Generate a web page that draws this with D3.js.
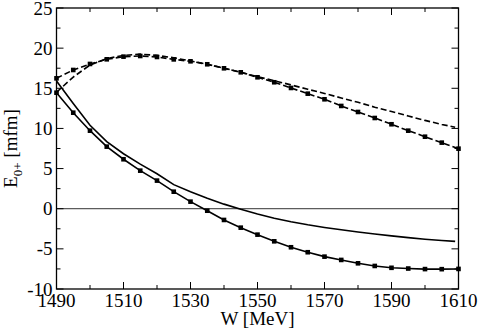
<!DOCTYPE html>
<html><head><meta charset="utf-8">
<script src="https://cdn.jsdelivr.net/npm/d3@7"></script>
<style>body{margin:0;background:#fff}svg{display:block}</style>
</head><body>
<script>
const wMarked = [1490,1495,1500,1505,1510,1515,1520,1525,1530,1535,1540,1545,1550,1555,1560,1565,1570,1575,1580,1585,1590,1595,1600,1605,1610];
const solidMarked = [14.45,11.96,9.72,7.73,6.16,4.74,3.5,2.12,0.88,-0.25,-1.4,-2.36,-3.23,-4.06,-4.8,-5.42,-5.97,-6.38,-6.8,-7.13,-7.36,-7.45,-7.52,-7.53,-7.5];
const dashedMarked = [16.24,17.28,18.03,18.61,18.94,19.02,18.9,18.6,18.36,17.99,17.49,16.99,16.37,15.75,15.04,14.33,13.63,12.8,12.05,11.3,10.52,9.72,8.97,8.23,7.48];
const wPlain = [1490,1495,1500,1505,1510,1515,1520,1525,1530,1535,1540,1545,1550,1555,1560,1565,1570,1575,1580,1585,1590,1595,1600,1605,1609];
const solidPlain = [15.9,13.1,10.4,8.35,6.85,5.55,4.35,3.0,2.1,1.3,0.57,-0.08,-0.66,-1.18,-1.62,-2.0,-2.33,-2.63,-2.9,-3.15,-3.38,-3.6,-3.8,-3.96,-4.07];
const dashedPlain = [14.5,16.4,17.9,18.7,19.1,19.25,19.1,18.8,18.4,18.0,17.5,17.0,16.45,15.95,15.42,14.88,14.35,13.8,13.25,12.65,12.1,11.55,11.0,10.5,10.15];
const xTicks = [1490,1510,1530,1550,1570,1590,1610];
const yTicks = [-10,-5,0,5,10,15,20,25];

const FONT = "'Liberation Serif','Times New Roman',Times,serif";
const W = 479, H = 329;
const m = {l:56.5, r:20.5, t:8, b:40};
const svg = d3.select("body").append("svg").attr("width",W).attr("height",H)
  .attr("font-family",FONT).style("font-family",FONT);
const x = d3.scaleLinear().domain([1490,1610]).range([m.l, W-m.r]);
const y = d3.scaleLinear().domain([-10,25]).range([H-m.b, m.t]);
const x0=x.range()[0], x1=x.range()[1], y0=y.range()[0], y1=y.range()[1];

// zero line
svg.append("line").attr("x1",x0).attr("x2",x1).attr("y1",y(0)).attr("y2",y(0))
  .attr("stroke","#333").attr("stroke-width",1);

// ticks
const xMinor = d3.range(1500,1610,20), yMinor = d3.range(-7.5,25,5);
const tk = svg.append("g").attr("stroke","#000").attr("stroke-width",1);
function xt(vals,len){vals.forEach(v=>{
  tk.append("line").attr("x1",x(v)).attr("x2",x(v)).attr("y1",y0).attr("y2",y0-len);
  tk.append("line").attr("x1",x(v)).attr("x2",x(v)).attr("y1",y1).attr("y2",y1+len);});}
function yt(vals,len){vals.forEach(v=>{
  tk.append("line").attr("y1",y(v)).attr("y2",y(v)).attr("x1",x0).attr("x2",x0+len);
  tk.append("line").attr("y1",y(v)).attr("y2",y(v)).attr("x1",x1).attr("x2",x1-len);});}
xt(xTicks,7); xt(xMinor,4); yt(yTicks,7); yt(yMinor,4);

// frame
svg.append("rect").attr("x",x0).attr("y",y1).attr("width",x1-x0).attr("height",y0-y1)
  .attr("fill","none").attr("stroke","#000").attr("stroke-width",1.3);

// tick labels
svg.append("g").selectAll("text").data(xTicks).join("text")
  .attr("x",d=>x(d)).attr("y",y0+18).attr("text-anchor","middle").attr("font-size",19).text(d=>d);
svg.append("g").selectAll("text").data(yTicks).join("text")
  .attr("x",x0-4).attr("y",d=>y(d)+6.5).attr("text-anchor","end").attr("font-size",19).text(d=>d);

// axis titles
svg.append("text").attr("x",(x0+x1)/2).attr("y",H-4).attr("text-anchor","middle").attr("font-size",19).text("W [MeV]");
const yl = svg.append("text").attr("transform",`translate(17,${(y0+y1)/2}) rotate(-90)`)
  .attr("text-anchor","middle").attr("font-size",19);
yl.append("tspan").text("E");
yl.append("tspan").attr("font-size",13).attr("dy",5).text("0+");
yl.append("tspan").attr("dy",-5).text(" [mfm]");

// curves
const line = d3.line().x(d=>x(d[0])).y(d=>y(d[1]));
function curve(ws,vs,dash,marks){
  const pts = ws.map((w,i)=>[w,vs[i]]);
  svg.append("path").attr("d",line(pts)).attr("fill","none").attr("stroke","#000")
    .attr("stroke-width",1.6).attr("stroke-dasharray",dash?"6,3":null);
  if(marks){
    svg.append("g").selectAll("rect").data(pts).join("rect")
      .attr("x",d=>x(d[0])-2.3).attr("y",d=>y(d[1])-2.3).attr("width",4.6).attr("height",4.6).attr("fill","#000");
  }
}
curve(wPlain,solidPlain,false,false);
curve(wMarked,solidMarked,false,true);
curve(wPlain,dashedPlain,true,false);
curve(wMarked,dashedMarked,true,true);
</script>
</body></html>
